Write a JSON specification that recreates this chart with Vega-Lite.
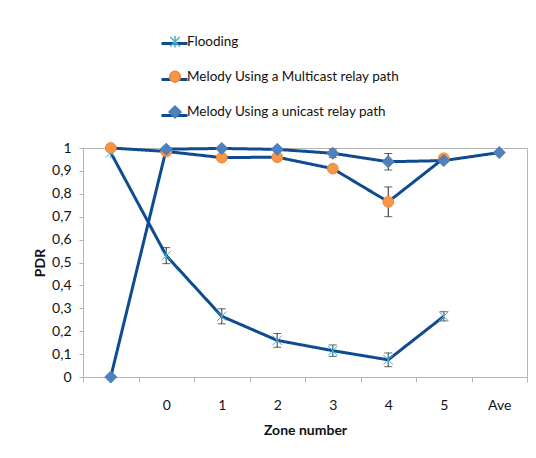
{
  "$schema": "https://vega.github.io/schema/vega-lite/v6.json",
  "width": 444,
  "height": 229,
  "autosize": "none",
  "padding": {"left": 83, "top": 148, "right": 9, "bottom": 81},
  "background": "white",
  "config": {
    "view": {"stroke": "#b5b5b5", "strokeWidth": 1},
    "font": "Lato",
    "axis": {"labelFont": "Lato", "titleFont": "Lato", "labelColor": "#111", "titleColor": "#111", "domainColor": "#b5b5b5", "tickColor": "#b5b5b5", "grid": false},
    "legend": {"labelFont": "Lato", "labelColor": "#111", "padding": 0, "labelLimit": 400}
  },
  "data": {
    "values": [
      {"zone": "", "series": "Flooding", "pdr": 0.98, "lo": null, "hi": null},
      {"zone": "0", "series": "Flooding", "pdr": 0.53, "lo": 0.495, "hi": 0.565},
      {"zone": "1", "series": "Flooding", "pdr": 0.265, "lo": 0.232, "hi": 0.298},
      {"zone": "2", "series": "Flooding", "pdr": 0.16, "lo": 0.13, "hi": 0.19},
      {"zone": "3", "series": "Flooding", "pdr": 0.115, "lo": 0.09, "hi": 0.14},
      {"zone": "4", "series": "Flooding", "pdr": 0.075, "lo": 0.045, "hi": 0.105},
      {"zone": "5", "series": "Flooding", "pdr": 0.265, "lo": 0.245, "hi": 0.285},
      {"zone": "", "series": "Melody Using a Multicast relay path", "pdr": 1.0, "lo": null, "hi": null},
      {"zone": "0", "series": "Melody Using a Multicast relay path", "pdr": 0.985, "lo": null, "hi": null},
      {"zone": "1", "series": "Melody Using a Multicast relay path", "pdr": 0.958, "lo": null, "hi": null},
      {"zone": "2", "series": "Melody Using a Multicast relay path", "pdr": 0.96, "lo": null, "hi": null},
      {"zone": "3", "series": "Melody Using a Multicast relay path", "pdr": 0.91, "lo": null, "hi": null},
      {"zone": "4", "series": "Melody Using a Multicast relay path", "pdr": 0.765, "lo": 0.7, "hi": 0.83},
      {"zone": "5", "series": "Melody Using a Multicast relay path", "pdr": 0.955, "lo": null, "hi": null},
      {"zone": "", "series": "Melody Using a unicast relay path", "pdr": 0.0, "lo": null, "hi": null},
      {"zone": "0", "series": "Melody Using a unicast relay path", "pdr": 0.995, "lo": null, "hi": null},
      {"zone": "1", "series": "Melody Using a unicast relay path", "pdr": 0.998, "lo": null, "hi": null},
      {"zone": "2", "series": "Melody Using a unicast relay path", "pdr": 0.994, "lo": null, "hi": null},
      {"zone": "3", "series": "Melody Using a unicast relay path", "pdr": 0.977, "lo": 0.959, "hi": 0.995},
      {"zone": "4", "series": "Melody Using a unicast relay path", "pdr": 0.94, "lo": 0.904, "hi": 0.976},
      {"zone": "5", "series": "Melody Using a unicast relay path", "pdr": 0.945, "lo": null, "hi": null},
      {"zone": "Ave", "series": "Melody Using a unicast relay path", "pdr": 0.98, "lo": null, "hi": null}
    ]
  },
  "encoding": {
    "x": {
      "field": "zone", "type": "ordinal",
      "scale": {"type": "band", "domain": ["", "0", "1", "2", "3", "4", "5", "Ave"], "paddingInner": 0, "paddingOuter": 0},
      "axis": {"title": "Zone number", "labelAngle": 0, "tickBand": "extent", "tickSize": 5, "labelPadding": 16, "labelFontSize": 14, "titleFontSize": 14, "titleFontWeight": "bold", "titlePadding": 11}
    },
    "y": {
      "field": "pdr", "type": "quantitative",
      "scale": {"domain": [0, 1], "nice": false, "zero": true},
      "axis": {"title": "PDR", "values": [0, 0.1, 0.2, 0.3, 0.4, 0.5, 0.6, 0.7, 0.8, 0.9, 1], "labelExpr": "datum.value == 0 || datum.value == 1 ? format(datum.value, 'd') : replace(format(datum.value, '.1f'), '.', ',')", "tickSize": 4, "labelPadding": 8, "labelFontSize": 14, "titleFontSize": 14, "titleFontWeight": "bold", "titlePadding": 4}
    }
  },
  "layer": [
    {
      "mark": {"type": "line", "color": "#0f4b8f", "strokeWidth": 3},
      "encoding": {
        "strokeDash": {
          "field": "series", "type": "nominal",
          "scale": {"domain": ["Flooding", "Melody Using a Multicast relay path", "Melody Using a unicast relay path"], "range": [[1, 0], [1, 0], [1, 0]]},
          "legend": {"orient": "none", "legendX": 77, "legendY": -119, "title": null, "symbolType": "stroke", "symbolSize": 676, "symbolStrokeWidth": 3, "symbolStrokeColor": "#0f4b8f", "labelExpr": "''", "labelFontSize": 13, "rowPadding": 14, "labelOffset": 0}
        }
      }
    },
    {
      "transform": [{"filter": "datum.lo != null"}],
      "mark": {"type": "errorbar", "ticks": {"size": 8, "color": "#222"}, "color": "#222", "thickness": 1},
      "encoding": {
        "y": {"field": "lo", "type": "quantitative"},
        "y2": {"field": "hi"}
      }
    },
    {
      "mark": {"type": "point", "filled": true, "opacity": 1, "strokeWidth": 1},
      "encoding": {
        "fill": {"field": "series", "type": "nominal", "scale": {"range": ["#4bacc6", "#f79646", "#4f81bd"]},
          "legend": {"orient": "none", "legendX": 77, "legendY": -113, "title": null, "labelFontSize": 13.5, "rowPadding": 17, "symbolOffset": 8, "labelOffset": 5}},
        "stroke": {"field": "series", "type": "nominal", "scale": {"range": ["#4bacc6", "#f0883a", "#4a7bb7"]}},
        "shape": {"field": "series", "type": "nominal", "scale": {"range": ["M-1,-1L1,1M-1,1L1,-1M0,-1.2L0,1.2", "circle", "diamond"]}},
        "size": {"field": "series", "type": "nominal", "scale": {"range": [90, 144, 150]}}
      }
    }
  ]
}
